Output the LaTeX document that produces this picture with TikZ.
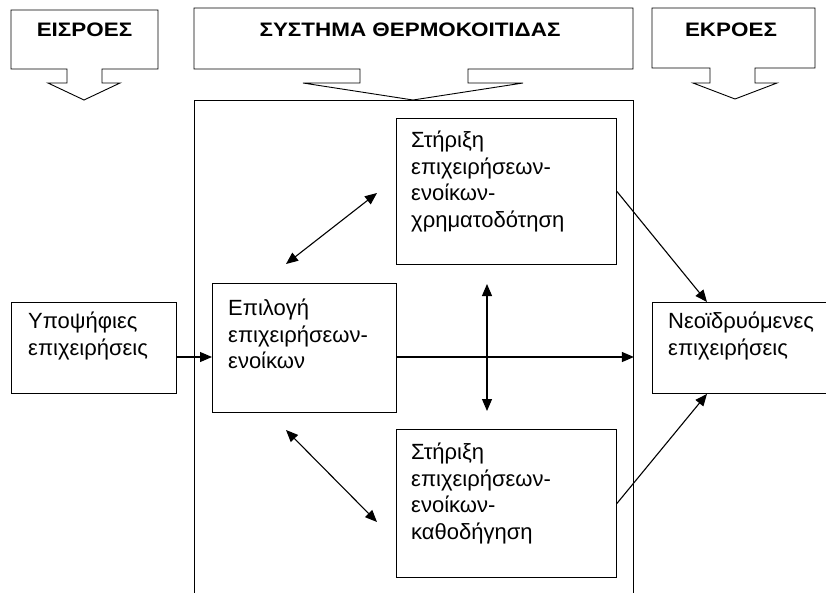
\documentclass[tikz,border=0pt]{standalone}
\usepackage{fontspec}
\setmainfont{Liberation Sans}
\newfontfamily\headfont{Liberation Sans}[FakeStretch=1.15]
\usetikzlibrary{arrows.meta,calc}
\begin{document}
\begin{tikzpicture}[x=1pt,y=-1pt,
  frame/.style={draw, line width=0.9pt, rectangle, inner sep=0pt, anchor=north west},
  txt/.style={anchor=north west, inner sep=0pt, align=left, font=\fontsize{22}{26.5}\selectfont},
  head/.style={font=\headfont\fontsize{19.5}{22}\selectfont\bfseries, inner sep=0pt},
  callout/.style={draw, line width=0.9pt, line join=miter},
  conn/.style={line width=1.1pt, -{Triangle[length=12pt,width=10pt]}},
  dconn/.style={line width=1.1pt, {Triangle[length=12pt,width=10pt]}-{Triangle[length=12pt,width=10pt]}}
]
\useasboundingbox (0,0) rectangle (826,592);
\clip (0,0) rectangle (826,592);

% the system frame (runs off the lower edge)
\node[frame, minimum width=439pt, minimum height=520pt] (sys) at (194,100) {};

% heading callouts with downward arrows
\draw[callout] (11,10) -- (158,10) -- (158,69) -- (102,69) -- (102,83) -- (120,83)
  -- (84,100) -- (48,83) -- (67,83) -- (67,69) -- (11,69) -- cycle;
\node[head] (hin) at (84.5,30) {ΕΙΣΡΟΕΣ};

\draw[callout] (194,8) -- (633,8) -- (633,69) -- (468,69) -- (468,83) -- (523,83)
  -- (413,100) -- (303,83) -- (360,83) -- (360,69) -- (194,69) -- cycle;
\node[head] (hsys) at (410,30) {ΣΥΣΤΗΜΑ ΘΕΡΜΟΚΟΙΤΙΔΑΣ};

\draw[callout] (652,8) -- (815,8) -- (815,68) -- (755,68) -- (755,83) -- (777,83)
  -- (735,99) -- (693,83) -- (710,83) -- (710,68) -- (652,68) -- cycle;
\node[head] (hout) at (731,30) {ΕΚΡΟΕΣ};

% boxes
\node[frame, minimum width=165pt, minimum height=91pt] (inbox) at (11,302) {};
\node[txt] (intxt) at (28,312) {Υποψήφιες\\επιχειρήσεις};

\node[frame, minimum width=184pt, minimum height=129pt] (epil) at (212,283) {};
\node[txt] (epiltxt) at (228,299) {Επιλογή\\επιχειρήσεων-\\ενοίκων};

\node[frame, minimum width=220pt, minimum height=146pt] (fin) at (396,118) {};
\node[txt] (fintxt) at (411,131) {Στήριξη\\επιχειρήσεων-\\ενοίκων-\\χρηματοδότηση};

\node[frame, minimum width=220pt, minimum height=148pt] (guide) at (396,429) {};
\node[txt] (guidetxt) at (411,443) {Στήριξη\\επιχειρήσεων-\\ενοίκων-\\καθοδήγηση};

\node[frame, minimum width=175pt, minimum height=91pt] (out) at (652,302) {};
\node[txt] (outtxt) at (668,312) {Νεοϊδρυόμενες\\επιχειρήσεις};

% connector end points
\coordinate (mid) at (0,357);
\coordinate (vt) at (487,284);
\coordinate (vb) at (487,411);
\coordinate (ua) at (286,264);
\coordinate (ub) at (377,193);
\coordinate (la) at (286,430);
\coordinate (lb) at (377,522);

% connectors
\draw[conn] (inbox.east |- mid) -- (epil.west |- mid);
\draw[conn] (epil.east |- mid) -- (sys.east |- mid);
\draw[dconn] (vt) -- (vb);
\draw[dconn] (ua) -- (ub);
\draw[dconn] (la) -- (lb);
\draw[conn] (fin.east) -- ($(out.north west)+(55,0)$);
\draw[conn] (guide.east) -- ($(out.south west)+(55,0)$);
\end{tikzpicture}
\end{document}
